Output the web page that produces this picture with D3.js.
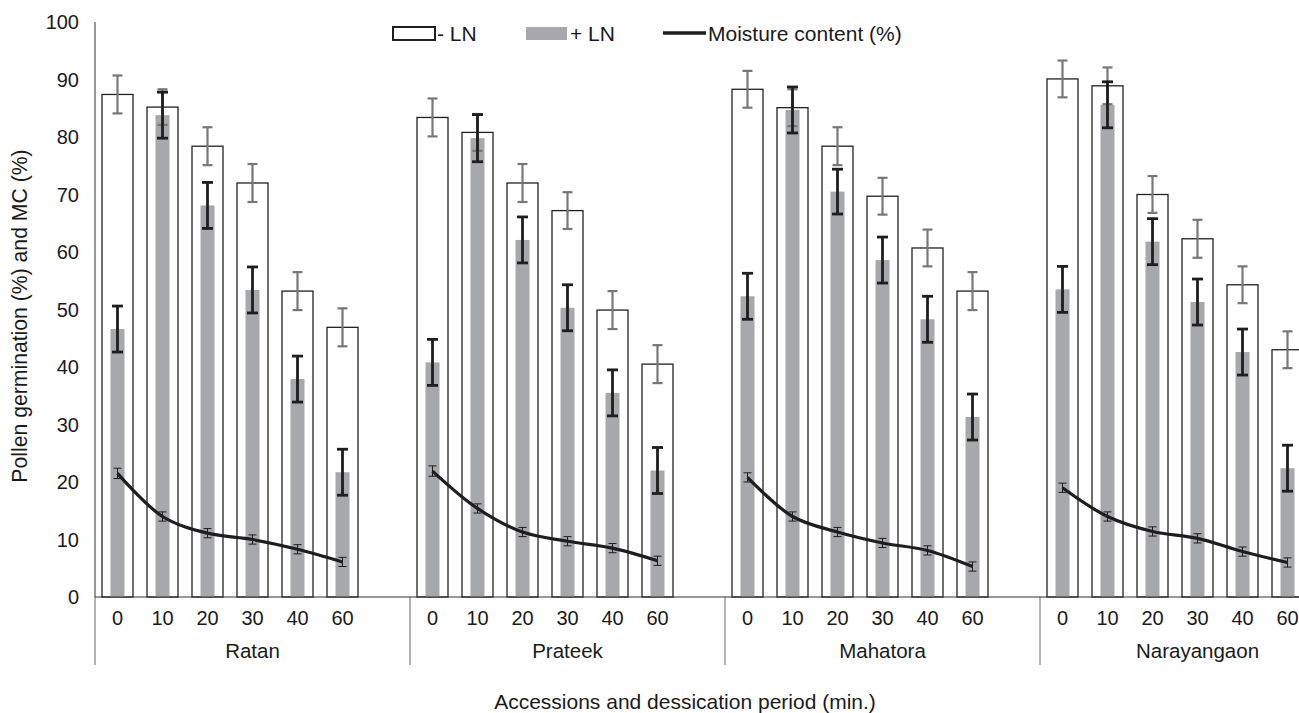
<!DOCTYPE html>
<html><head><meta charset="utf-8">
<script src="https://cdn.jsdelivr.net/npm/d3@7"></script>
<style>
body{margin:0;background:#fff;}
svg{display:block;font-family:"Liberation Sans",Arial,Helvetica,sans-serif;}
</style></head>
<body><svg id="chart" width="1299" height="713"></svg>
<script>
const accessions = ["Ratan","Prateek","Mahatora","Narayangaon"];
const periods = ["0","10","20","30","40","60"];
const yTicks = [0,10,20,30,40,50,60,70,80,90,100];
// -LN germination (%)
const minusLN = [
  [87.4,85.2,78.4,72.0,53.2,46.9],
  [83.4,80.8,72.0,67.2,49.9,40.5],
  [88.3,85.1,78.4,69.7,60.7,53.2],
  [90.1,88.9,70.0,62.3,54.3,43.0]
];
const minusLNErr = [
  [3.3,3.1,3.3,3.3,3.3,3.3],
  [3.3,3.2,3.3,3.2,3.3,3.3],
  [3.2,3.2,3.3,3.2,3.2,3.3],
  [3.2,3.2,3.2,3.3,3.2,3.2]
];
// +LN germination (%)
const plusLN = [
  [46.6,83.8,68.1,53.4,37.9,21.7],
  [40.8,79.8,62.1,50.3,35.5,22.0],
  [52.3,84.7,70.5,58.6,48.3,31.3],
  [53.5,85.6,61.8,51.3,42.6,22.4]
];
const plusLNErr = [
  [4.0,4.0,4.0,4.0,4.0,4.0],
  [4.0,4.1,4.0,4.0,4.0,4.0],
  [4.0,4.0,3.9,4.0,4.0,4.0],
  [4.0,4.0,4.0,4.0,4.0,4.0]
];
// Moisture content (%)
const moisture = [
  [21.5,14.0,11.1,10.0,8.3,6.1],
  [21.9,15.4,11.3,9.7,8.5,6.3],
  [20.8,14.0,11.3,9.4,8.1,5.3],
  [19.0,14.0,11.4,10.2,7.9,6.0]
];
const moistureErr = [
  [0.9,0.8,0.8,0.8,0.8,0.8],
  [0.9,0.8,0.8,0.8,0.8,0.8],
  [0.8,0.8,0.8,0.8,0.8,0.8],
  [0.8,0.8,0.8,0.8,0.8,0.8]
];

const svg = d3.select("#chart");
const mLeft = 95, mTop = 22, mBottom = 597, groupW = 315;
const y = d3.scaleLinear().domain([0,100]).range([mBottom, mTop]);
const xGroup = d3.scaleBand().domain(accessions).range([mLeft, mLeft + groupW*accessions.length]);
const xIn = d3.scaleBand().domain(periods).range([0, 270]);
const cx = (gi, pi) => xGroup(accessions[gi]) + xIn(periods[pi]) + xIn.bandwidth()/2;

const whiteW = 31, grayW = 14;
const txt = "#1a1a1a";

svg.append("line").attr("x1",mLeft).attr("x2",mLeft).attr("y1",mTop).attr("y2",mBottom)
  .attr("stroke","#333").attr("stroke-width",1);
svg.selectAll("text.ytick").data(yTicks).enter().append("text")
  .attr("class","ytick").attr("x",79).attr("y",d=>y(d)).attr("dy","0.36em")
  .attr("text-anchor","end").attr("font-size",20).attr("fill",txt).text(d=>d);

svg.append("text").attr("transform",`translate(27,316) rotate(-90)`)
  .attr("text-anchor","middle").attr("font-size",21.2).attr("fill",txt)
  .text("Pollen germination (%) and MC (%)");

const g = svg.append("g");
accessions.forEach((acc, gi) => {
  const grp = g.append("g");
  grp.selectAll("rect.w").data(minusLN[gi]).enter().append("rect")
    .attr("x",(d,i)=>cx(gi,i)-whiteW/2).attr("width",whiteW)
    .attr("y",d=>y(d)).attr("height",d=>mBottom-y(d))
    .attr("fill","#fff").attr("stroke","#222").attr("stroke-width",1.3);
  grp.selectAll("rect.g").data(plusLN[gi]).enter().append("rect")
    .attr("x",(d,i)=>cx(gi,i)-grayW/2).attr("width",grayW)
    .attr("y",d=>y(d)).attr("height",d=>mBottom-y(d))
    .attr("fill","#a7a8ab");
  minusLN[gi].forEach((v,i)=>{
    const e = minusLNErr[gi][i], x = cx(gi,i);
    const eg = grp.append("g").attr("stroke","#777").attr("stroke-width",2.2);
    eg.append("line").attr("x1",x).attr("x2",x).attr("y1",y(v+e)).attr("y2",y(v-e));
    eg.append("line").attr("x1",x-5).attr("x2",x+5).attr("y1",y(v+e)).attr("y2",y(v+e));
    eg.append("line").attr("x1",x-5).attr("x2",x+5).attr("y1",y(v-e)).attr("y2",y(v-e));
  });
  plusLN[gi].forEach((v,i)=>{
    const e = plusLNErr[gi][i], x = cx(gi,i);
    const eg = grp.append("g").attr("stroke","#1e1e1e").attr("stroke-width",2.8);
    eg.append("line").attr("x1",x).attr("x2",x).attr("y1",y(v+e)).attr("y2",y(v-e));
    eg.append("line").attr("x1",x-5.5).attr("x2",x+5.5).attr("y1",y(v+e)).attr("y2",y(v+e));
    eg.append("line").attr("x1",x-5.5).attr("x2",x+5.5).attr("y1",y(v-e)).attr("y2",y(v-e));
  });
  const line = d3.line().x((d,i)=>cx(gi,i)).y(d=>y(d)).curve(d3.curveCatmullRom.alpha(0.5));
  grp.append("path").datum(moisture[gi]).attr("d",line)
    .attr("fill","none").attr("stroke","#1e1e1e").attr("stroke-width",3.2);
  moisture[gi].forEach((v,i)=>{
    const e = moistureErr[gi][i], x = cx(gi,i);
    const eg = grp.append("g").attr("stroke","#1e1e1e").attr("stroke-width",1);
    eg.append("line").attr("x1",x).attr("x2",x).attr("y1",y(v+e)).attr("y2",y(v-e));
    eg.append("line").attr("x1",x-4).attr("x2",x+4).attr("y1",y(v+e)).attr("y2",y(v+e));
    eg.append("line").attr("x1",x-4).attr("x2",x+4).attr("y1",y(v-e)).attr("y2",y(v-e));
  });
  grp.selectAll("text.p").data(periods).enter().append("text")
    .attr("x",(d,i)=>cx(gi,i)).attr("y",625).attr("text-anchor","middle")
    .attr("font-size",20).attr("fill",txt).text(d=>d);
  grp.append("text").attr("x", xGroup(acc) + 157.5).attr("y",658).attr("text-anchor","middle")
    .attr("font-size",20.5).attr("fill",txt).text(acc);
  svg.append("line").attr("x1",xGroup(acc)).attr("x2",xGroup(acc)).attr("y1",mBottom).attr("y2",665)
    .attr("stroke","#666").attr("stroke-width",1);
});

svg.append("line").attr("x1",mLeft).attr("x2",1299).attr("y1",mBottom).attr("y2",mBottom)
  .attr("stroke","#333").attr("stroke-width",1.2);

svg.append("text").attr("x",685).attr("y",709).attr("text-anchor","middle")
  .attr("font-size",21).attr("fill",txt).text("Accessions and dessication period (min.)");

const lg = svg.append("g");
lg.append("rect").attr("x",393).attr("y",27).attr("width",42).attr("height",13)
  .attr("fill","#fff").attr("stroke","#1e1e1e").attr("stroke-width",2);
lg.append("text").attr("x",437).attr("y",40.5).attr("font-size",21).attr("fill",txt).text("- LN");
lg.append("rect").attr("x",526).attr("y",27).attr("width",41).attr("height",13).attr("fill","#a7a8ab");
lg.append("text").attr("x",570).attr("y",40.5).attr("font-size",21).attr("fill",txt).text("+ LN");
lg.append("line").attr("x1",663).attr("x2",706).attr("y1",33).attr("y2",33)
  .attr("stroke","#1e1e1e").attr("stroke-width",3.5);
lg.append("text").attr("x",708).attr("y",40.5).attr("font-size",21).attr("fill",txt).text("Moisture content (%)");
</script></body></html>
